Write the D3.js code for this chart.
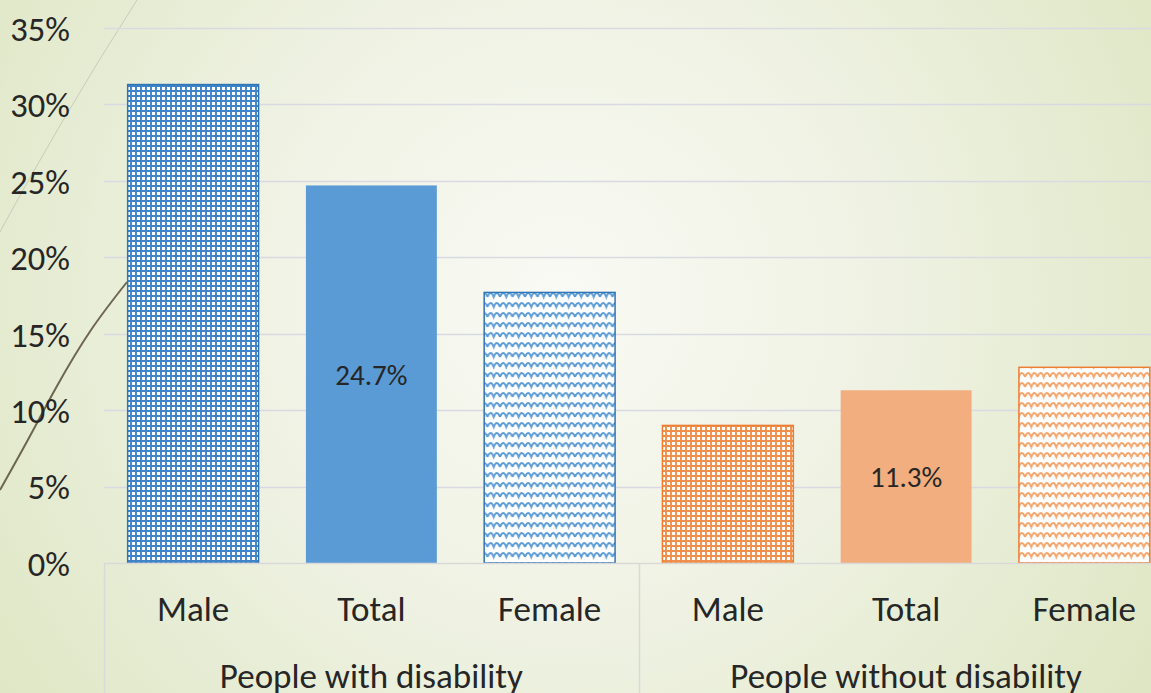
<!DOCTYPE html>
<html>
<head>
<meta charset="utf-8">
<style>
  html, body { margin: 0; padding: 0; overflow: hidden; }
  svg { display: block; }
  .tick-label, .cat-label, .group-label { font-family: Carlito, Calibri, Lato, sans-serif; fill: #262626; }
</style>
</head>
<body>
<svg width="1151" height="693"></svg>
<script src="https://d3js.org/d3.v7.min.js"></script>
<script>

// --- data ---
var groups = ["People with disability", "People without disability"];
var categories = ["Male", "Total", "Female"];
var withDisability = [31.3, 24.7, 17.7];
var withoutDisability = [9.0, 11.3, 12.8];
var yTicks = [0, 5, 10, 15, 20, 25, 30, 35];
var labelled = ["Total"]; // only the totals carry a value label

// decorative swoosh from the slide theme
var swoosh = [[127, 282], [91, 330], [57, 386], [30, 436], [0, 490]];

var rows = [];
groups.forEach(function(g, gi) {
  var vals = gi == 0 ? withDisability : withoutDisability;
  categories.forEach(function(c, ci) {
    rows.push({ key: g + "|" + c, group: g, gi: gi, cat: c, value: vals[ci] });
  });
});

var palette = [
  { line: "#2e75b6", grid: "#2a76c2", solid: "#5a9ad5", wave: "#5b9bd5" },
  { line: "#ed7d31", grid: "#ef8238", solid: "#f2ae7f", wave: "#f4a469" }
];

var svg = d3.select("svg"),
    W = +svg.attr("width"),
    H = +svg.attr("height");

var plot = { left: 104, right: 1173.5, top: 28, bottom: 563 };

var x = d3.scaleBand()
    .domain(rows.map(function(d) { return d.key; }))
    .range([plot.left, plot.right])
    .paddingInner(0.26)
    .paddingOuter(0.13);

var y = d3.scaleLinear()
    .domain([0, 35])
    .range([plot.bottom, plot.top]);

var defs = svg.append("defs");

// slide background
var bg = defs.append("radialGradient")
    .attr("id", "bg")
    .attr("gradientUnits", "userSpaceOnUse")
    .attr("cx", 560).attr("cy", 300).attr("r", 720);
bg.append("stop").attr("offset", "0%").attr("stop-color", "#f9faf4");
bg.append("stop").attr("offset", "45%").attr("stop-color", "#eff2e3");
bg.append("stop").attr("offset", "100%").attr("stop-color", "#dde6c2");

svg.append("rect")
    .attr("width", W).attr("height", H)
    .attr("fill", "url(#bg)");

// patterns: grid for male, wave for female
palette.forEach(function(p, i) {
  var grid = defs.append("pattern")
      .attr("id", "grid" + i)
      .attr("patternUnits", "userSpaceOnUse")
      .attr("width", 5).attr("height", 5);
  grid.append("rect").attr("width", 5).attr("height", 5).attr("fill", "#ffffff");
  grid.append("path")
      .attr("d", "M1,0V5M0,1H5")
      .attr("stroke", p.grid)
      .attr("stroke-width", 1.9)
      .attr("stroke-opacity", 0.9)
      .attr("fill", "none");

  var wave = defs.append("pattern")
      .attr("id", "wave" + i)
      .attr("patternUnits", "userSpaceOnUse")
      .attr("width", 12.5).attr("height", 10);
  wave.append("rect").attr("width", 12.5).attr("height", 10).attr("fill", "#ffffff");
  wave.append("path")
      .attr("d", "M0,7 C2,1.5 4.25,1.5 6.25,7 C8.25,1.5 10.5,1.5 12.5,7")
      .attr("stroke", p.wave)
      .attr("stroke-width", 2)
      .attr("fill", "none");
});

// decorative lines
svg.append("path")
    .attr("d", "M137,0 Q60,120 -10,250")
    .attr("fill", "none")
    .attr("stroke", "#c9cbb8")
    .attr("stroke-width", 1);

svg.append("path")
    .attr("d", d3.line().curve(d3.curveNatural)(swoosh))
    .attr("fill", "none")
    .attr("stroke", "#6e6650")
    .attr("stroke-width", 2);

// gridlines
svg.append("g")
  .selectAll("line")
  .data(yTicks.slice(1))
  .enter().append("line")
    .attr("x1", plot.left).attr("x2", W)
    .attr("y1", function(d) { return Math.round(y(d)) + 0.5; })
    .attr("y2", function(d) { return Math.round(y(d)) + 0.5; })
    .attr("stroke", "#d9d9e3")
    .attr("stroke-width", 1.3);

// y axis labels
var yAxis = svg.append("g")
    .attr("transform", "translate(" + plot.left + ",0)")
    .call(d3.axisLeft(y).tickValues(yTicks).tickSize(0).tickPadding(34)
      .tickFormat(function(d) { return d + "%"; }));
yAxis.select(".domain").remove();
yAxis.selectAll("text")
    .attr("class", "tick-label")
    .style("font-size", "34.5px")
    .attr("dy", "0.36em")
    .attr("fill", "#262626");

// bars
svg.append("g")
  .selectAll("rect")
  .data(rows)
  .enter().append("rect")
    .attr("x", function(d) { return x(d.key) + 0.5; })
    .attr("y", function(d) { return y(d.value); })
    .attr("width", x.bandwidth() - 1)
    .attr("height", function(d) { return y(0) - y(d.value); })
    .attr("fill", function(d) {
      if (d.cat == "Male") return "url(#grid" + d.gi + ")";
      if (d.cat == "Female") return "url(#wave" + d.gi + ")";
      return palette[d.gi].solid;
    })
    .attr("stroke", function(d) { return d.cat == "Total" ? "none" : palette[d.gi].line; })
    .attr("stroke-width", 1.5);

// value labels inside total bars
svg.append("g")
  .selectAll("text")
  .data(rows.filter(function(d) { return labelled.indexOf(d.cat) >= 0; }))
  .enter().append("text")
    .attr("class", "tick-label")
    .attr("x", function(d) { return x(d.key) + x.bandwidth() / 2; })
    .attr("y", function(d) { return (y(d.value) + y(0)) / 2 + 10.5; })
    .attr("text-anchor", "middle")
    .style("font-size", "29px")
    .text(function(d) { return d.value.toFixed(1) + "%"; });

// category axis: baseline and group separators
var axisCol = "#d9d9d9";
svg.append("line")
    .attr("x1", plot.left).attr("x2", W)
    .attr("y1", plot.bottom + 0.5).attr("y2", plot.bottom + 0.5)
    .attr("stroke", axisCol).attr("stroke-width", 1.5);

var groupEdges = groups.map(function(g, gi) {
  var keys = rows.filter(function(d) { return d.gi == gi; }).map(function(d) { return d.key; });
  var step = x.step();
  return { name: g, x0: x(keys[0]) - step * 0.13, x1: x(keys[keys.length - 1]) + x.bandwidth() + step * 0.13 };
});

svg.append("g")
  .selectAll("line")
  .data(groupEdges)
  .enter().append("line")
    .attr("x1", function(d) { return Math.round(d.x0) + 0.5; })
    .attr("x2", function(d) { return Math.round(d.x0) + 0.5; })
    .attr("y1", plot.bottom).attr("y2", H)
    .attr("stroke", axisCol).attr("stroke-width", 1.5);

svg.append("g")
  .selectAll("text")
  .data(rows)
  .enter().append("text")
    .attr("class", "cat-label")
    .attr("x", function(d) { return x(d.key) + x.bandwidth() / 2; })
    .attr("y", 621)
    .attr("text-anchor", "middle")
    .style("font-size", "35px")
    .text(function(d) { return d.cat; });

svg.append("g")
  .selectAll("text")
  .data(groupEdges)
  .enter().append("text")
    .attr("class", "group-label")
    .attr("x", function(d) { return (d.x0 + d.x1) / 2; })
    .attr("y", 688)
    .attr("text-anchor", "middle")
    .style("font-size", "35px")
    .text(function(d) { return d.name; });

</script>
</body>
</html>
